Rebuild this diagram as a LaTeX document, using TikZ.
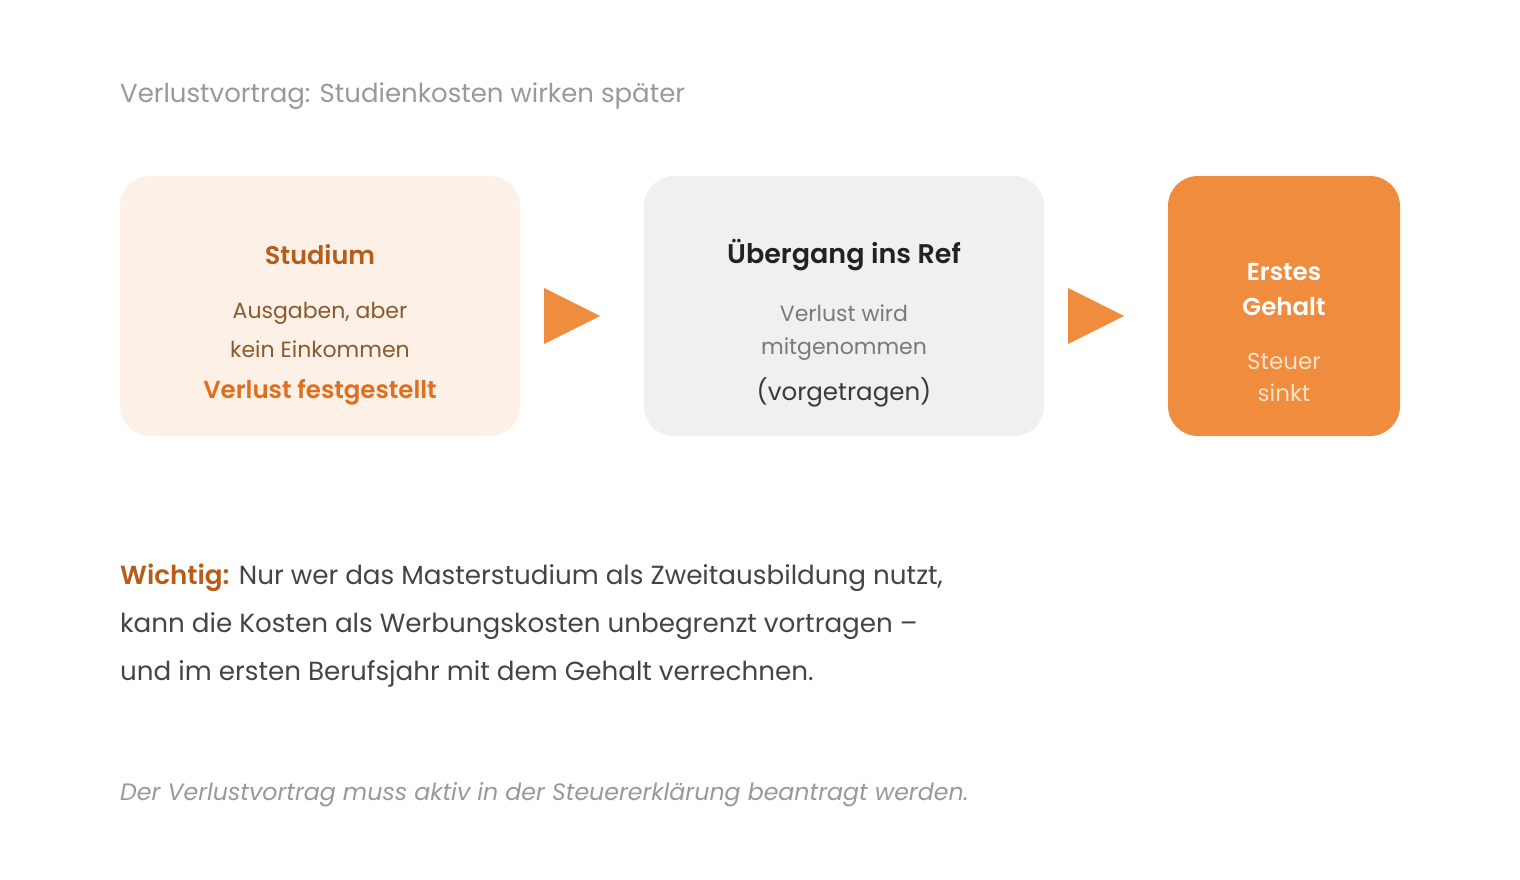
\documentclass[tikz,border=0pt]{standalone}
\usepackage{fontspec}
\setmainfont{Poppins}[BoldFont=* SemiBold, BoldItalicFont=* SemiBold Italic]
\definecolor{titlegray}{HTML}{999999}
\definecolor{peach}{HTML}{FDF0E6}
\definecolor{lightgray}{HTML}{F0F0F0}
\definecolor{orangebox}{HTML}{EF8C3E}
\definecolor{darkorange}{HTML}{B85C1A}
\definecolor{brown}{HTML}{8A5A2E}
\definecolor{midorange}{HTML}{E06E1E}
\definecolor{textdark}{HTML}{222222}
\definecolor{textgray}{HTML}{7A7A7A}
\definecolor{textmid}{HTML}{3A3A3A}
\definecolor{lightpeach}{HTML}{FDE2CC}
\definecolor{paragraph}{HTML}{444444}
\begin{document}
\begin{tikzpicture}[x=1pt,y=-1pt,
  card/.style={rounded corners=30pt, inner sep=0pt},
  tri/.style={fill=orangebox, draw=none},
  txt/.style={anchor=center, inner sep=0pt},
]
\useasboundingbox (0,0) rectangle (1520,880);
\fill[white] (0,0) rectangle (1520,880);
% title
\node[txt, anchor=west, text=titlegray, font=\fontsize{26}{30}\selectfont] (title) at (120,96) {Verlustvortrag: Studienkosten wirken später};
% cards
\fill[peach, card] (120,176) rectangle (520,436);
\fill[lightgray, card] (644,176) rectangle (1044,436);
\fill[orangebox, card] (1168,176) rectangle (1400,436);
% arrows
\fill[tri] (544,288) -- (600,316) -- (544,344) -- cycle;
\fill[tri] (1068,288) -- (1124,316) -- (1068,344) -- cycle;
% card 1 text
\node[txt, text=darkorange, font=\fontsize{25.5}{30}\selectfont\bfseries] (s1) at (320,255) {Studium};
\node[txt, text=brown, font=\fontsize{22}{26}\selectfont] (s2) at (320,313) {Ausgaben, aber};
\node[txt, text=brown, font=\fontsize{22}{26}\selectfont] (s3) at (320,349) {kein Einkommen};
\node[txt, text=midorange, font=\fontsize{24.5}{28}\selectfont\bfseries] (s4) at (320,392) {Verlust festgestellt};
% card 2 text
\node[txt, text=textdark, font=\fontsize{27}{30}\selectfont\bfseries] (u1) at (844,255) {Übergang ins Ref};
\node[txt, text=textgray, font=\fontsize{22}{26}\selectfont] (u2) at (844,313) {Verlust wird};
\node[txt, text=textgray, font=\fontsize{22}{26}\selectfont] (u3) at (844,349) {mitgenommen};
\node[txt, text=textmid, font=\fontsize{24.5}{28}\selectfont] (u4) at (844,392) {(vorgetragen)};
% card 3 text
\node[txt, text=white, font=\fontsize{24.5}{28}\selectfont\bfseries] (e1) at (1284,272) {Erstes};
\node[txt, text=white, font=\fontsize{24.5}{28}\selectfont\bfseries] (e2) at (1284,307) {Gehalt};
\node[txt, text=lightpeach, font=\fontsize{23}{26}\selectfont] (e3) at (1284,361) {Steuer};
\node[txt, text=lightpeach, font=\fontsize{23}{26}\selectfont] (e4) at (1284,393) {sinkt};
% paragraph
\node[txt, anchor=base west, text=paragraph, font=\fontsize{26.2}{30}\selectfont] (p1) at (120,584) {\textcolor{darkorange}{\bfseries Wichtig:} Nur wer das Masterstudium als Zweitausbildung nutzt,};
\node[txt, anchor=base west, text=paragraph, font=\fontsize{26.2}{30}\selectfont] (p2) at (120,632) {kann die Kosten als Werbungskosten unbegrenzt vortragen –};
\node[txt, anchor=base west, text=paragraph, font=\fontsize{26.2}{30}\selectfont] (p3) at (120,680) {und im ersten Berufsjahr mit dem Gehalt verrechnen.};
% footnote
\node[txt, anchor=base west, text=titlegray, font=\fontsize{23.7}{27}\selectfont\itshape] (f1) at (120,800) {Der Verlustvortrag muss aktiv in der Steuererklärung beantragt werden.};
\end{tikzpicture}
\end{document}
